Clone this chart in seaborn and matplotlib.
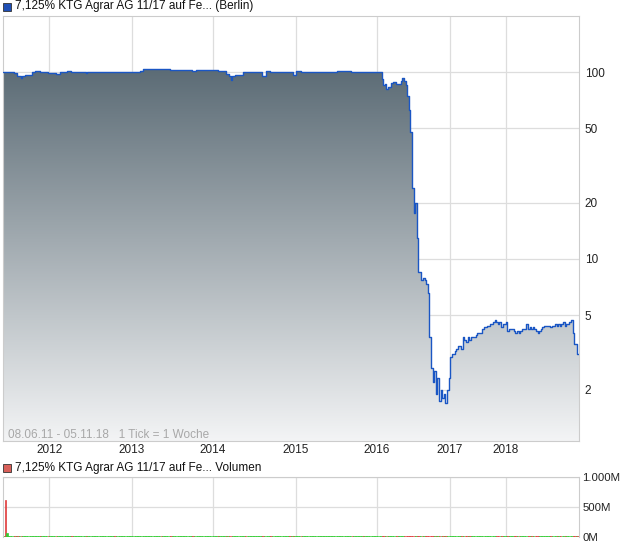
import numpy as np
import pandas as pd
import matplotlib
matplotlib.use('Agg')
import matplotlib.pyplot as plt
import seaborn as sns
from matplotlib.patches import Rectangle
from matplotlib.colors import LinearSegmentedColormap
from matplotlib.ticker import NullLocator

# x axis is "1 tick = 1 week", weeks without trading are left out
n_ticks = 362
year_ticks = [29, 81, 132, 184, 235, 281, 316]
year_labels = ['2012', '2013', '2014', '2015', '2016', '2017', '2018']

# price in % (log scale)
tick = [0, 7, 9, 11, 12, 14, 18, 20, 23, 28, 33, 36, 40, 43, 52, 53, 66, 70, 80,
        86, 88, 92, 99, 105, 119, 121, 135, 140, 142, 143, 144, 146, 151, 152,
        163, 165, 168, 174, 180, 182, 184, 187, 210, 219, 226,
        237, 238, 239, 240, 241, 242, 244, 245, 247, 249, 250, 251, 252, 253, 254, 255,
        256, 257, 258, 259, 260, 261, 262, 263, 264, 265, 266, 267, 268, 269, 270,
        271, 272, 273, 274, 275, 276, 277, 278, 279, 280, 281, 282, 284, 285, 286,
        288, 289, 290, 291, 292, 293, 294, 297, 298, 301, 302, 304, 306, 308, 309,
        310, 311, 312, 313, 314, 316, 317, 318, 321, 322, 323, 324, 325, 326, 329,
        330, 331, 332, 333, 334, 335, 336, 337, 338, 339, 340, 344, 345, 347, 348,
        349, 350, 351, 352, 353, 354, 356, 357, 358, 359, 361]
price = [100, 99, 95.5, 93, 96, 97, 100, 102, 100, 99.5, 97.5, 100.5, 101, 100, 98.5, 100, 100.5, 100, 100,
         101.5, 103.5, 104.5, 103.5, 102.5, 101, 102.5, 101, 98, 95.5, 90.6, 95.5, 97, 100.5, 100,
         96, 101, 100, 100.5, 100, 97, 101, 100, 101.5, 100.5, 100,
         100, 92, 85, 87, 81, 83, 88, 89, 86, 86, 90, 93, 90, 85, 75, 63,
         48, 24, 17.6, 20, 13, 8.5, 8.5, 7.7, 7.9, 7.7, 7.3, 6.6, 3.8, 2.6, 2.2,
         2.5, 1.9, 2.3, 1.74, 2.0, 1.8, 1.9, 1.7, 2.0, 2.3, 3.0, 3.1, 3.2, 3.3, 3.4,
         3.3, 3.8, 3.7, 3.6, 3.8, 3.7, 3.8, 3.9, 4.0, 4.2, 4.3, 4.4, 4.5, 4.6, 4.7,
         4.6, 4.5, 4.6, 4.3, 4.5, 4.6, 4.1, 4.2, 4.1, 4.0, 4.1, 4.0, 4.1, 4.2, 4.5,
         4.2, 4.3, 4.2, 4.3, 4.2, 4.1, 4.0, 4.1, 4.2, 4.3, 4.4, 4.3, 4.4, 4.5, 4.4,
         4.5, 4.4, 4.5, 4.6, 4.4, 4.5, 4.6, 4.7, 4.0, 3.5, 3.1]
price_ticks = [2, 5, 10, 20, 50, 100]
price_labels = ['2', '5', '10', '20', '50', '100']

# volume in millions
vol_tick = [1, 2]
vol_value = [625, 74]
vol_floor = 16  # all other weeks are practically zero
vol_ticks = [0, 500, 1000]
vol_labels = ['0M', '500M', '1.000M']

sns.set_theme(style='white')
plt.rcParams['font.family'] = ['Liberation Sans', 'DejaVu Sans']

W, H = 620, 546
def box(l, t, r, b):
    return [l / W, 1 - b / H, (r - l) / W, (b - t) / H]

fig = plt.figure(figsize=(6.2, 5.46), dpi=100)
ax = fig.add_axes(box(3, 16, 579, 441))
axv = fig.add_axes(box(3, 477, 579, 537))

df = pd.DataFrame({'tick': tick + [n_ticks], 'price': price + [price[-1]]})

ax.set_yscale('log')
poly = ax.fill_between(df['tick'], df['price'], 0.9, step='post',
                       facecolor='none', edgecolor='none')
cmap = LinearSegmentedColormap.from_list(
    'fade', [(0, '#f3f4f5'), (0.88, '#5b6b75'), (1, '#56656f')])
grad = np.linspace(0, 1, 256).reshape(-1, 1)
im = ax.imshow(grad, cmap=cmap, aspect='auto', origin='lower',
               extent=[0, 1, 0, 1], transform=ax.transAxes, zorder=1)
im.set_clip_path(poly.get_paths()[0], transform=ax.transData)

sns.lineplot(data=df, x='tick', y='price', drawstyle='steps-post',
             color='#1a56c4', linewidth=1.0, ax=ax, zorder=3)

ax.set_xlim(0, n_ticks)
ax.set_ylim(1.06, 200)
ax.set_aspect('auto')
ax.set_xticks(year_ticks, labels=year_labels)
ax.set_yticks(price_ticks, labels=price_labels)
ax.yaxis.set_minor_locator(NullLocator())
ax.yaxis.tick_right()
ax.tick_params(axis='y', length=0, labelsize=8.5, pad=4, colors='#222222')
ax.tick_params(axis='x', length=0, labelsize=8.5, pad=2, colors='#222222')
ax.grid(True, color='#dddddd', linewidth=0.9, zorder=0)
ax.set_axisbelow(True)
ax.set_xlabel('')
ax.set_ylabel('')
for s in ax.spines.values():
    s.set_color('#cccccc')
    s.set_linewidth(0.8)
ax.text(5 / 576, 6 / 425, '08.06.11 - 05.11.18   1 Tick = 1 Woche',
        transform=ax.transAxes, va='center', ha='left', fontsize=8.5,
        color='#a8a8a8', zorder=4)

# volume panel
vol = pd.Series(float(vol_floor), index=range(n_ticks))
vol[vol_tick] = vol_value
held = pd.Series(price, index=tick).reindex(range(n_ticks)).ffill()
up = held.diff().fillna(0) >= 0
colors = np.where(up, '#33cc33', '#e03c3c')
colors[vol_tick[0]] = '#e03c3c'
colors[vol_tick[1]] = '#33cc33'
axv.bar(vol.index + 0.5, vol.values, width=0.9, color=colors,
        edgecolor=colors, linewidth=0.5)
axv.set_xlim(0, n_ticks)
axv.set_ylim(0, 1000)
axv.set_xticks(year_ticks, labels=[])
axv.set_yticks(vol_ticks, labels=vol_labels)
axv.yaxis.tick_right()
axv.tick_params(axis='y', length=0, labelsize=8.2, pad=2.5, colors='#222222')
axv.tick_params(axis='x', length=0)
axv.grid(True, color='#dddddd', linewidth=0.9)
axv.set_axisbelow(True)
for s in axv.spines.values():
    s.set_color('#cccccc')
    s.set_linewidth(0.8)
axv.spines['bottom'].set_visible(False)

# headers
fig.add_artist(Rectangle((3 / W, 1 - 11 / H), 8 / W, 8 / H, transform=fig.transFigure,
                         facecolor='#1f4fb5', edgecolor='#333333', linewidth=0.6))
fig.text(15 / W, 1 - 6.5 / H, '7,125% KTG Agrar AG 11/17 auf Fe... (Berlin)',
         va='center', ha='left', fontsize=8.5, color='#111111')
fig.add_artist(Rectangle((3 / W, 1 - 472 / H), 8 / W, 8 / H, transform=fig.transFigure,
                         facecolor='#d9605a', edgecolor='#333333', linewidth=0.6))
fig.text(15 / W, 1 - 467.5 / H, '7,125% KTG Agrar AG 11/17 auf Fe... Volumen',
         va='center', ha='left', fontsize=8.5, color='#111111')

fig.savefig('out.png', dpi=100, facecolor='white')
